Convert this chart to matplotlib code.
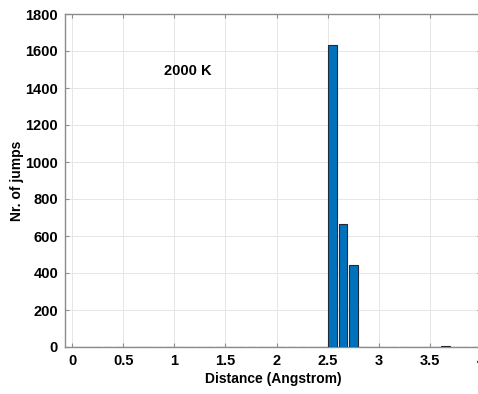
import numpy as np
import matplotlib.pyplot as plt

plt.rcParams['font.family'] = ['Liberation Sans', 'DejaVu Sans']
plt.rcParams['font.weight'] = 'bold'

# histogram bins (centres, Angstrom) and counts
bin_centres = np.round(np.arange(0.05, 4.0, 0.1), 2)
counts = np.zeros(len(bin_centres))
counts[np.isclose(bin_centres, 2.55)] = 1635
counts[np.isclose(bin_centres, 2.65)] = 665
counts[np.isclose(bin_centres, 2.75)] = 445
counts[np.isclose(bin_centres, 3.65)] = 8
counts[np.isclose(bin_centres, 3.85)] = 2

x_ticks = [0, 0.5, 1, 1.5, 2, 2.5, 3, 3.5, 4]
x_tick_labels = ['0', '0.5', '1', '1.5', '2', '2.5', '3', '3.5', '4']
y_ticks = np.arange(0, 1801, 200)

fig = plt.figure(figsize=(4.78, 3.94), dpi=100)
ax = fig.add_axes([65 / 478, 1 - 347 / 394, 416 / 478, 333 / 394])

ax.bar(bin_centres, counts, width=0.085, color='#0072BD',
       edgecolor='#1f2a36', linewidth=0.8, zorder=3)

ax.set_xlim(-0.07, 4.0)
ax.set_ylim(0, 1800)
ax.set_xticks(x_ticks)
ax.set_xticklabels(x_tick_labels)
ax.set_yticks(y_ticks)

ax.grid(True, color='#e6e6e6', linewidth=0.7, zorder=0)
ax.set_axisbelow(True)
for s in ax.spines.values():
    s.set_color('#8c8c8c')
    s.set_linewidth(1.0)
ax.tick_params(direction='in', length=3, width=0.8, color='#8c8c8c',
               labelsize=10.5, top=True, right=True, pad=5)

ax.set_xlabel('Distance (Angstrom)', fontsize=10, fontweight='bold', labelpad=3)
ax.set_ylabel('Nr. of jumps', fontsize=10, fontweight='bold')
ax.yaxis.set_label_coords(-0.098, 0.5)

ax.text(0.9, 1490, '2000 K', fontsize=10.5, fontweight='bold', va='center', ha='left')

fig.savefig('out.png', dpi=100)
